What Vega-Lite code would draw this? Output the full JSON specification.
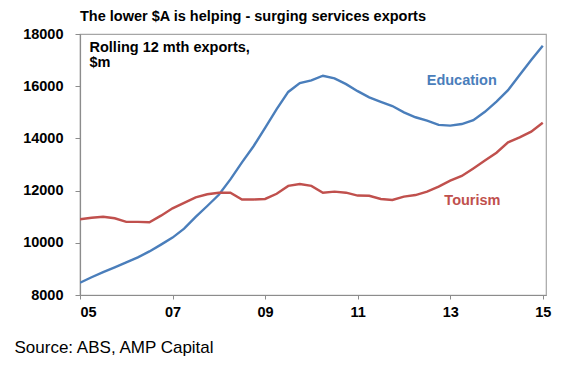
{
  "$schema": "https://vega.github.io/schema/vega-lite/v6.json",
  "width": 466,
  "height": 261,
  "autosize": {"type": "none"},
  "padding": {"left": 80, "top": 34, "right": 34, "bottom": 74},
  "background": "white",
  "config": {
    "font": "Liberation Sans",
    "view": {"stroke": "#a6a6a6", "strokeWidth": 1.2}
  },
  "title": {
    "text": "The lower $A is helping - surging services exports",
    "anchor": "start",
    "frame": "group",
    "baseline": "alphabetic",
    "offset": 13,
    "dy": 22.5,
    "font": "Liberation Sans",
    "fontSize": 14.5,
    "fontWeight": "bold",
    "color": "#000000"
  },
  "datasets": {
    "exports": [
      {"t": 2005.00, "Education": 8470, "Tourism": 10900},
      {"t": 2005.25, "Education": 8680, "Tourism": 10960},
      {"t": 2005.50, "Education": 8880, "Tourism": 11000},
      {"t": 2005.75, "Education": 9060, "Tourism": 10940},
      {"t": 2006.00, "Education": 9250, "Tourism": 10800},
      {"t": 2006.25, "Education": 9440, "Tourism": 10800},
      {"t": 2006.50, "Education": 9670, "Tourism": 10790},
      {"t": 2006.75, "Education": 9930, "Tourism": 11040},
      {"t": 2007.00, "Education": 10200, "Tourism": 11320},
      {"t": 2007.25, "Education": 10540, "Tourism": 11530},
      {"t": 2007.50, "Education": 10990, "Tourism": 11740},
      {"t": 2007.75, "Education": 11410, "Tourism": 11860},
      {"t": 2008.00, "Education": 11840, "Tourism": 11920},
      {"t": 2008.25, "Education": 12430, "Tourism": 11920},
      {"t": 2008.50, "Education": 13080, "Tourism": 11660},
      {"t": 2008.75, "Education": 13700, "Tourism": 11660},
      {"t": 2009.00, "Education": 14400, "Tourism": 11680},
      {"t": 2009.25, "Education": 15120, "Tourism": 11880},
      {"t": 2009.50, "Education": 15780, "Tourism": 12180},
      {"t": 2009.75, "Education": 16120, "Tourism": 12250},
      {"t": 2010.00, "Education": 16220, "Tourism": 12180},
      {"t": 2010.25, "Education": 16400, "Tourism": 11920},
      {"t": 2010.50, "Education": 16300, "Tourism": 11960},
      {"t": 2010.75, "Education": 16080, "Tourism": 11920},
      {"t": 2011.00, "Education": 15810, "Tourism": 11810},
      {"t": 2011.25, "Education": 15570, "Tourism": 11800},
      {"t": 2011.50, "Education": 15400, "Tourism": 11680},
      {"t": 2011.75, "Education": 15240, "Tourism": 11640},
      {"t": 2012.00, "Education": 15000, "Tourism": 11770},
      {"t": 2012.25, "Education": 14810, "Tourism": 11830},
      {"t": 2012.50, "Education": 14680, "Tourism": 11960},
      {"t": 2012.75, "Education": 14520, "Tourism": 12150},
      {"t": 2013.00, "Education": 14490, "Tourism": 12380},
      {"t": 2013.25, "Education": 14550, "Tourism": 12560},
      {"t": 2013.50, "Education": 14700, "Tourism": 12850},
      {"t": 2013.75, "Education": 15020, "Tourism": 13150},
      {"t": 2014.00, "Education": 15410, "Tourism": 13450},
      {"t": 2014.25, "Education": 15850, "Tourism": 13850},
      {"t": 2014.50, "Education": 16430, "Tourism": 14040},
      {"t": 2014.75, "Education": 17000, "Tourism": 14260},
      {"t": 2015.00, "Education": 17550, "Tourism": 14600}
    ],
    "labels": [
      {"series": "Education", "t": 2013.25, "v": 16210},
      {"series": "Tourism", "t": 2013.48, "v": 11600}
    ]
  },
  "layer": [
    {
      "data": {"name": "exports"},
      "transform": [{"fold": ["Education", "Tourism"], "as": ["series", "v"]}],
      "mark": {"type": "line", "strokeWidth": 2.4, "clip": true},
      "encoding": {
        "x": {
          "field": "t",
          "type": "quantitative",
          "scale": {"domain": [2005, 2015.07], "nice": false, "zero": false},
          "axis": {
            "values": [2005, 2007, 2009, 2011, 2013, 2015],
            "labelExpr": "substring(toString(datum.value), 2)",
            "grid": false,
            "domainColor": "#8c8c8c",
            "domainWidth": 1.2,
            "tickColor": "#8c8c8c",
            "tickSize": 4,
            "labelPadding": 6,
            "labelFont": "Liberation Sans",
            "labelFontSize": 14.5,
            "labelFontWeight": "bold",
            "labelColor": "#000000",
            "title": "Source: ABS, AMP Capital",
            "titleX": -66,
            "titleY": 57,
            "titleAlign": "left",
            "titleBaseline": "alphabetic",
            "titleFont": "Liberation Sans",
            "titleFontSize": 17,
            "titleFontWeight": "normal",
            "titleColor": "#000000"
          }
        },
        "y": {
          "field": "v",
          "type": "quantitative",
          "scale": {"domain": [8000, 18000], "nice": false, "zero": false},
          "axis": {
            "values": [8000, 10000, 12000, 14000, 16000, 18000],
            "format": "d",
            "grid": false,
            "domainColor": "#8c8c8c",
            "domainWidth": 1.2,
            "tickColor": "#8c8c8c",
            "tickSize": 5,
            "labelPadding": 12,
            "labelFont": "Liberation Sans",
            "labelFontSize": 14.5,
            "labelFontWeight": "bold",
            "labelColor": "#000000",
            "title": ["Rolling 12 mth exports,", "$m"],
            "titleAngle": 0,
            "titleX": 9,
            "titleY": 6,
            "titleAlign": "left",
            "titleBaseline": "top",
            "titleLineHeight": 15,
            "titleFont": "Liberation Sans",
            "titleFontSize": 14.5,
            "titleFontWeight": "bold",
            "titleColor": "#000000"
          }
        },
        "color": {
          "field": "series",
          "type": "nominal",
          "scale": {"domain": ["Education", "Tourism"], "range": ["#4a7ebb", "#c0504d"]},
          "legend": null
        }
      }
    },
    {
      "data": {"name": "labels"},
      "mark": {
        "type": "text",
        "font": "Liberation Sans",
        "fontSize": 14.5,
        "fontWeight": "bold",
        "align": "center",
        "baseline": "middle"
      },
      "encoding": {
        "x": {"field": "t", "type": "quantitative"},
        "y": {"field": "v", "type": "quantitative"},
        "text": {"field": "series"},
        "color": {"field": "series", "type": "nominal", "legend": null}
      }
    }
  ]
}
